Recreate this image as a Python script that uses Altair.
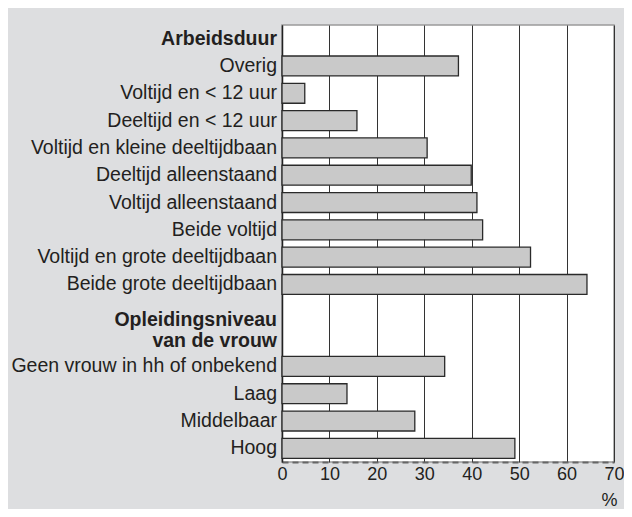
import altair as alt
import pandas as pd

# slots (top to bottom)
slots = ["Arbeidsduur", "Overig", "Voltijd en < 12 uur", "Deeltijd en < 12 uur",
         "Voltijd en kleine deeltijdbaan", "Deeltijd alleenstaand", "Voltijd alleenstaand",
         "Beide voltijd", "Voltijd en grote deeltijdbaan", "Beide grote deeltijdbaan",
         "_gap", "Opleidingsniveau", "Geen vrouw in hh of onbekend", "Laag",
         "Middelbaar", "Hoog"]

bar_labels = ["Overig", "Voltijd en < 12 uur", "Deeltijd en < 12 uur",
              "Voltijd en kleine deeltijdbaan", "Deeltijd alleenstaand", "Voltijd alleenstaand",
              "Beide voltijd", "Voltijd en grote deeltijdbaan", "Beide grote deeltijdbaan",
              "Geen vrouw in hh of onbekend", "Laag", "Middelbaar", "Hoog"]
bar_values = [37.2, 4.8, 15.8, 30.6, 39.9, 41.1, 42.3, 52.4, 64.3, 34.3, 13.7, 28.0, 49.1]

headers = ["Arbeidsduur"]
header_multi = ["Opleidingsniveau\nvan de vrouw"]
x_ticks = [0, 10, 20, 30, 40, 50, 60, 70]

FONT = "Liberation Sans"
TXT = "#231f20"
LBL = 19.5
W, H = 332, 437

bars_df = pd.DataFrame({"slot": bar_labels, "value": bar_values})
head_df = pd.DataFrame({"slot": headers})
multi_df = pd.DataFrame({"slot": ["_gap"], "label": header_multi})

yscale = alt.Scale(domain=slots, paddingInner=0.27, paddingOuter=0.135)
xscale = alt.Scale(domain=[0, 70], nice=False)

bars = alt.Chart(bars_df).mark_bar(color="#c9c9c9", stroke="#2a2a2a", strokeWidth=1.3).encode(
    x=alt.X("value:Q", scale=xscale,
            axis=alt.Axis(values=x_ticks, ticks=False, grid=True, gridColor="#333333",
                          gridWidth=1, labelFontSize=18, labelFont=FONT, labelColor=TXT,
                          labelPadding=3, labelFlush=False, labelOverlap=False,
                          domainColor="#666666", domainWidth=2,
                          domainDash=[6, 4], title="%", titleFont=FONT, titleFontSize=18,
                          titleFontWeight="normal", titleColor=TXT, titleX=W + 3,
                          titleY=47.5, titleAlign="right", titleBaseline="bottom")),
    y=alt.Y("slot:N", scale=yscale, sort=slots,
            axis=alt.Axis(labels=False, ticks=False, title=None, domainColor="#222222",
                          domainWidth=1.5, grid=False)),
)

labels = alt.Chart(bars_df).mark_text(align="right", baseline="middle", font=FONT,
                                      fontSize=LBL, color=TXT, dx=-5).encode(
    x=alt.value(0),
    y=alt.Y("slot:N", scale=yscale, sort=slots),
    text="slot:N",
)

head = alt.Chart(head_df).mark_text(align="right", baseline="middle", font=FONT,
                                    fontSize=LBL, fontWeight="bold", color=TXT, dx=-5).encode(
    x=alt.value(0),
    y=alt.Y("slot:N", scale=yscale, sort=slots),
    text="slot:N",
)

multi = alt.Chart(multi_df).mark_text(align="right", baseline="middle", font=FONT,
                                      fontSize=LBL, fontWeight="bold", color=TXT, dx=-5,
                                      dy=8, lineBreak="\n", lineHeight=21).encode(
    x=alt.value(0),
    y=alt.Y("slot:N", scale=yscale, sort=slots),
    text="label:N",
)

chart = alt.layer(bars, labels, head, multi).properties(
    width=W, height=H,
    autosize=alt.AutoSizeParams(type="none"),
    padding={"left": 274, "top": 17, "right": 616 - 274 - W, "bottom": 501 - 17 - H},
    background="#dddee0",
).configure_view(stroke="#9a9a9a", strokeWidth=1.5, fill="white")

chart.save("out.html", embed_options={"renderer": "svg", "actions": False})
